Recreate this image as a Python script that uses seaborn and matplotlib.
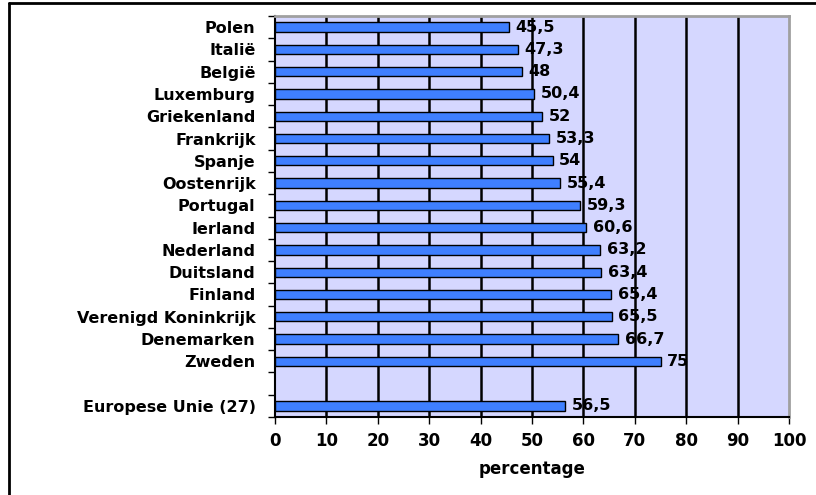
import numpy as np
import pandas as pd
import matplotlib
matplotlib.use("Agg")
import matplotlib.pyplot as plt
from matplotlib.lines import Line2D
import seaborn as sns

countries = ["Polen", "Italië", "België", "Luxemburg", "Griekenland", "Frankrijk",
             "Spanje", "Oostenrijk", "Portugal", "Ierland", "Nederland", "Duitsland",
             "Finland", "Verenigd Koninkrijk", "Denemarken", "Zweden", "Europese Unie (27)"]
values = [45.5, 47.3, 48, 50.4, 52, 53.3, 54, 55.4, 59.3, 60.6, 63.2, 63.4,
          65.4, 65.5, 66.7, 75, 56.5]
value_labels = ["45,5", "47,3", "48", "50,4", "52", "53,3", "54", "55,4", "59,3",
                "60,6", "63,2", "63,4", "65,4", "65,5", "66,7", "75", "56,5"]
x_ticks = [0, 10, 20, 30, 40, 50, 60, 70, 80, 90, 100]
x_label = "percentage"

order = countries[:16] + [" "] + countries[16:]
df = pd.DataFrame({"land": countries, "pct": values})

sns.set_style("white")
plt.rcParams["font.family"] = ["DejaVu Sans"]
plt.rcParams["text.color"] = "black"
plt.rcParams["axes.labelcolor"] = "black"
plt.rcParams["xtick.color"] = "black"
plt.rcParams["ytick.color"] = "black"

fig = plt.figure(figsize=(8.16, 4.95), dpi=100)
ax = fig.add_axes([275/816, 1-417/495, (789-275)/816, (417-16)/495])
ax.set_facecolor("#D5D7FF")

sns.barplot(data=df, y="land", x="pct", order=order, orient="h", ax=ax,
            color="#3F7FFF", saturation=1, width=0.42, edgecolor="black",
            linewidth=1.0, zorder=3)

ax.set_xlim(0, 100)
ax.set_ylim(len(order) - 0.5, -0.5)
ax.set_xticks(x_ticks)
ax.set_xticklabels([str(t) for t in x_ticks], fontsize=12, fontweight="bold")
ax.set_xlabel(x_label, fontsize=12, fontweight="bold", labelpad=7)
ax.set_ylabel("")

ax.set_yticks(range(len(order)))
ax.set_yticklabels(order, fontsize=11.5, fontweight="bold")
ax.set_yticks(np.arange(-0.5, len(order), 1.0), minor=True)
ax.tick_params(axis="y", which="major", length=0, pad=14)
ax.tick_params(axis="y", which="minor", length=5, width=1, color="black", left=True)
ax.tick_params(axis="x", which="major", length=5, width=1, color="black", bottom=True, pad=6)

for xv in x_ticks[1:-1]:
    ax.axvline(xv, color="black", linewidth=1.8, zorder=1)

for s in ["left", "bottom"]:
    ax.spines[s].set_color("black")
    ax.spines[s].set_linewidth(1.5)
for s in ["top", "right"]:
    ax.spines[s].set_color("#A0A0A0")
    ax.spines[s].set_linewidth(2)

ypos = {c: order.index(c) for c in countries}
for c, v, lab in zip(countries, values, value_labels):
    ax.text(v + 1.3, ypos[c], lab, va="center", ha="left", fontsize=11.5,
            fontweight="bold", zorder=4)

# outer frame (left and top)
fig.add_artist(Line2D([9/816, 9/816], [0, 1-3/495], transform=fig.transFigure,
                      color="black", linewidth=2))
fig.add_artist(Line2D([9/816, 1], [1-3/495, 1-3/495], transform=fig.transFigure,
                      color="black", linewidth=2))

fig.savefig("out.png", dpi=100)
